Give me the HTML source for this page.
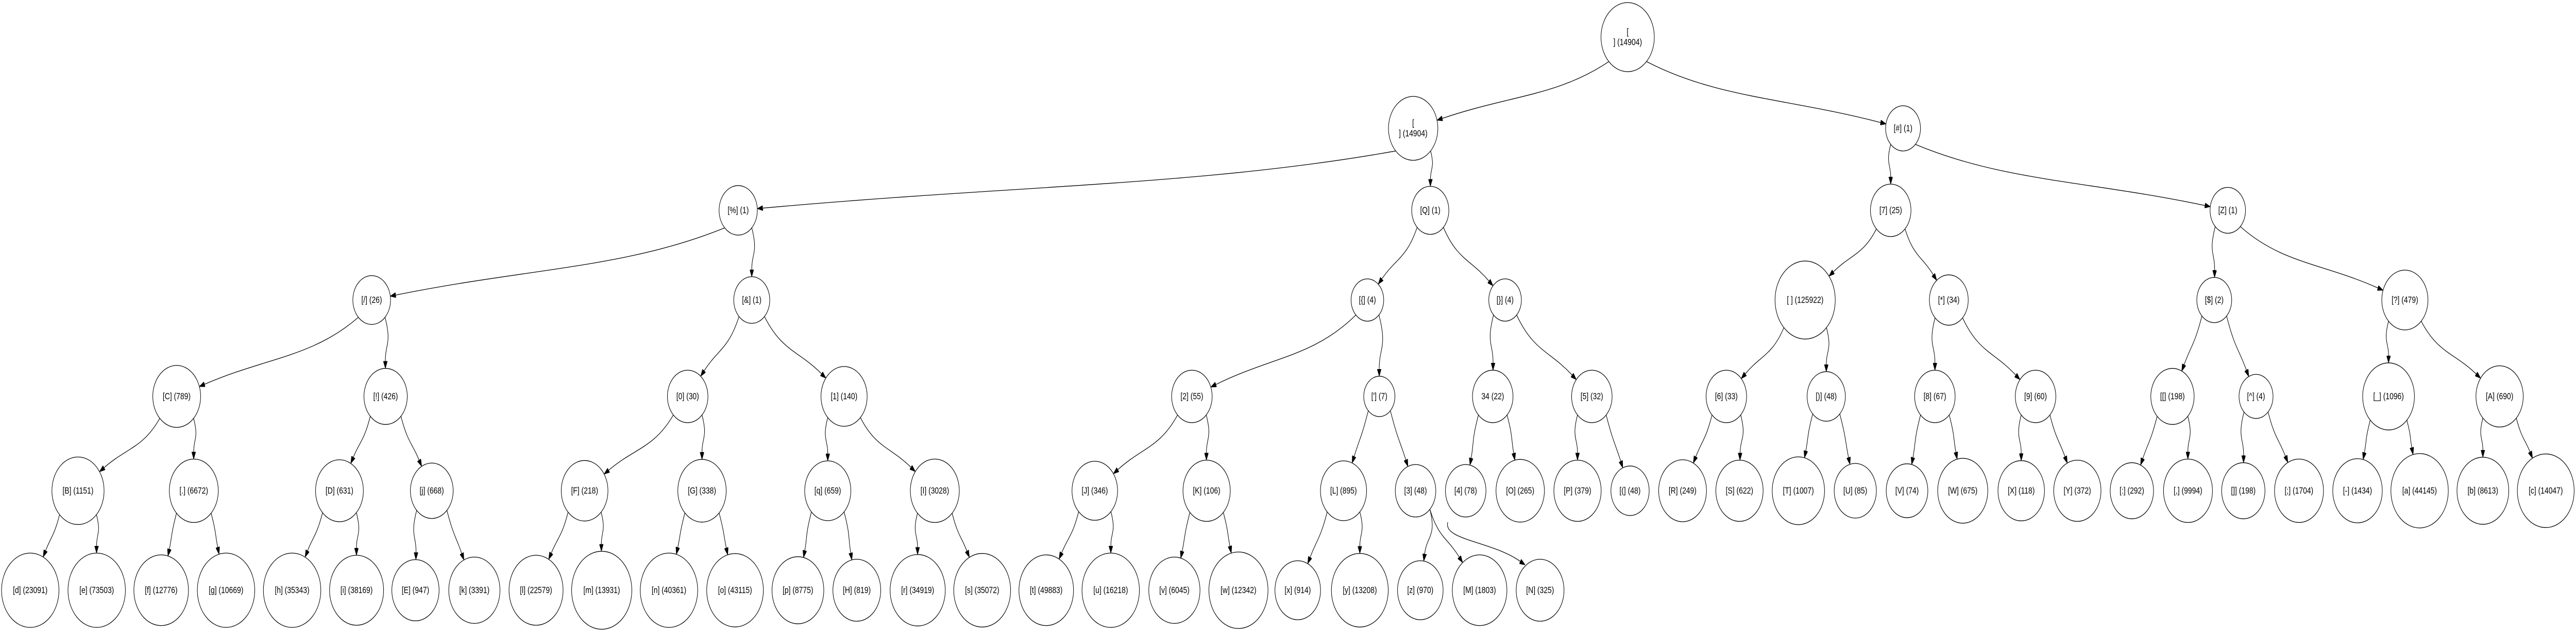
<!DOCTYPE html>
<html><head><meta charset="utf-8">
<style>
html,body{margin:0;padding:0;background:#fff;width:100%;height:100%;overflow:hidden;}
svg{display:block;width:100vw;height:100vh;}
text{font-family:"Liberation Sans",Arial,sans-serif;font-size:18px;fill:#000;}
</style></head>
<body>
<svg id="g" xmlns="http://www.w3.org/2000/svg" viewBox="0 0 6473 1226" preserveAspectRatio="none">
<defs><marker id="ah" markerUnits="userSpaceOnUse" markerWidth="14" markerHeight="10" viewBox="0 -5 14 10" refX="0" refY="0" orient="auto"><path d="M0,-5 L14,0 L0,5 z" fill="#000" stroke="#000" stroke-width="1"/></marker></defs>
<rect width="6473" height="1226" fill="#fff"/>
<g id="edges"></g><g id="nodes"></g>
</svg>
<script>
var L3=582,L4=769,L5=952,L6=1145;
var N=[
["R","[\n] (14904)",4090,72,null,67],
["N1","[\n] (14904)",3551,249,"R",62],
["H","[#] (1)",4782,249,"R"],
["P","[%] (1)",1855,408,"N1"],
["Q","[Q] (1)",3594,408,"N1"],
["S7","[7] (25)",4751,408,"H"],
["Z","[Z] (1)",5598,408,"H"],
["sl","[/] (26)",934,L3,"P"],["am","[&] (1)",1889,L3,"P"],["lb","[{] (4)",3436,L3,"Q"],["rb","[}] (4)",3782,L3,"Q"],
["sp","[ ] (125922)",4536,L3,"S7"],["st","[*] (34)",4897,L3,"S7"],["do","[$] (2)",5564,L3,"Z"],["qm","[?] (479)",6043,L3,"Z"],
["C","[C] (789)",444,L4,"sl"],["ex","[!] (426)",969,L4,"sl"],["z0","[0] (30)",1728,L4,"am"],["z1","[1] (140)",2121,L4,"am"],
["z2","[2] (55)",2995,L4,"lb"],["ap","['] (7)",3466,L4,"lb"],["q34","34 (22)",3751,L4,"rb"],["z5","[5] (32)",4000,L4,"rb"],
["z6","[6] (33)",4338,L4,"sp"],["rp","[)] (48)",4589,L4,"sp"],["z8","[8] (67)",4862,L4,"st"],["z9","[9] (60)",5115,L4,"st"],
["lsb","[[] (198)",5459,L4,"do"],["ca","[^] (4)",5669,L4,"do"],["us","[_] (1096)",6002,L4,"qm"],["A","[A] (690)",6281,L4,"qm"],
["B","[B] (1151)",196,L5,"C"],["dot","[.] (6672)",487,L5,"C"],["D","[D] (631)",853,L5,"ex"],["j","[j] (668)",1085,L5,"ex"],
["F","[F] (218)",1469,L5,"z0"],["G","[G] (338)",1764,L5,"z0"],["q","[q] (659)",2080,L5,"z1"],["I","[I] (3028)",2349,L5,"z1"],
["J","[J] (346)",2751,L5,"z2"],["K","[K] (106)",3032,L5,"z2"],["Lx","[L] (895)",3376,L5,"ap"],["z3","[3] (48)",3557,L5,"ap"],
["z4","[4] (78)",3683,L5,"q34"],["O","[O] (265)",3820,L5,"q34"],["Pp","[P] (379)",3964,L5,"z5"],["lp","[(] (48)",4096,L5,"z5"],
["Rr","[R] (249)",4228,L5,"z6"],["Ss","[S] (622)",4371,L5,"z6"],["T","[T] (1007)",4519,L5,"rp"],["U","[U] (85)",4662,L5,"rp"],
["V","[V] (74)",4792,L5,"z8"],["W","[W] (675)",4932,L5,"z8"],["X","[X] (118)",5079,L5,"z9"],["Y","[Y] (372)",5220,L5,"z9"],
["co","[:] (292)",5357,L5,"lsb"],["cm","[,] (9994)",5498,L5,"lsb"],["rsb","[]] (198)",5637,L5,"ca"],["sc","[;] (1704)",5777,L5,"ca"],
["hy","[-] (1434)",5924,L5,"us"],["a","[a] (44145)",6080,L5,"us"],["b","[b] (8613)",6239,L5,"A"],["c","[c] (14047)",6397,L5,"A"],
["d","[d] (23091)",76,L6,"B"],["e","[e] (73503)",243,L6,"B"],["f","[f] (12776)",405,L6,"dot"],["g","[g] (10669)",568,L6,"dot"],
["h","[h] (35343)",734,L6,"D"],["i","[i] (38169)",896,L6,"D"],["E","[E] (947)",1044,L6,"j"],["k","[k] (3391)",1192,L6,"j"],
["l","[l] (22579)",1347,L6,"F"],["m","[m] (13931)",1512,L6,"F"],["n","[n] (40361)",1681,L6,"G"],["o","[o] (43115)",1847,L6,"G"],
["p","[p] (8775)",2005,L6,"q"],["Hh","[H] (819)",2153,L6,"q"],["r","[r] (34919)",2306,L6,"I"],["s","[s] (35072)",2468,L6,"I"],
["t","[t] (49883)",2629,L6,"J"],["u","[u] (16218)",2791,L6,"J"],["v","[v] (6045)",2951,L6,"K"],["w","[w] (12342)",3112,L6,"K"],
["x","[x] (914)",3261,L6,"Lx"],["y","[y] (13208)",3417,L6,"Lx"],["zz","[z] (970)",3569,L6,"z3"],["M","[M] (1803)",3718,L6,"z3"],
["Nn","[N] (325)",3870,L6,"z4"]
];
var NS="http://www.w3.org/2000/svg";
var ng=document.getElementById("nodes"),eg=document.getElementById("edges");
var map={};
N.forEach(function(n){
  var t=document.createElementNS(NS,"text");
  t.setAttribute("text-anchor","middle");
  var lines=n[1].split("\n");
  if(lines.length==1){t.setAttribute("x",n[2]);t.setAttribute("y",n[3]);t.setAttribute("dominant-baseline","central");t.textContent=n[1];}
  else{lines.forEach(function(s,i){var ts=document.createElementNS(NS,"tspan");ts.setAttribute("x",n[2]);ts.setAttribute("y",n[3]+(i==0?-10:10));ts.setAttribute("dominant-baseline","central");ts.textContent=s;t.appendChild(ts);});}
  var c=document.createElementNS(NS,"circle");
  c.setAttribute("cx",n[2]);c.setAttribute("cy",n[3]);c.setAttribute("fill","none");c.setAttribute("stroke","#000");c.setAttribute("stroke-width","1.3");
  ng.appendChild(c);ng.appendChild(t);
  var r=n[5];
  if(!r){var tw=0;try{tw=t.getComputedTextLength();}catch(e){} if(!tw)tw=n[1].length*8;r=0.707*(tw+15);}
  c.setAttribute("r",r);
  map[n[0]]={x:n[2],y:n[3],r:r};
});
function add(d){var p=document.createElementNS(NS,"path");p.setAttribute("d",d);p.setAttribute("fill","none");p.setAttribute("stroke","#000");p.setAttribute("stroke-width","1.3");p.setAttribute("marker-end","url(#ah)");eg.appendChild(p);}
function f(v){return v.toFixed(1);}
N.forEach(function(n){
  if(!n[4])return;
  var P=map[n[4]],C=map[n[0]];
  if(n[0]=="Nn"){
    var p0x=P.x-45,p0y=P.y+61;
    add("M"+p0x+","+p0y+" C"+(p0x-12)+","+(p0y+35)+" "+(C.x-120)+","+(C.y-95)+" "+(C.x-50)+","+(C.y-56));
    return;
  }
  var dx=C.x-P.x,s=dx<0?-1:1;
  var p0x=P.x+s*0.7071*P.r,p0y=P.y+0.7071*P.r;
  var vx=p0x-C.x,vy=p0y-C.y,vl=Math.sqrt(vx*vx+vy*vy);var ex=vx/vl,ey=vy/vl;
  var bx=C.x+ex*C.r,by=C.y+ey*C.r;
  var endx=bx+ex*14,endy=by+ey*14;
  var dd=Math.sqrt((endx-p0x)*(endx-p0x)+(endy-p0y)*(endy-p0y));var Lc=dd*0.4;
  var c1x=p0x+s*Math.max(0.3*Math.abs(endx-p0x),0.2*(endy-p0y)),c1y=p0y+0.6*(endy-p0y);
  var c2x=endx+ex*Lc,c2y=endy+ey*Lc;
  add("M"+f(p0x)+","+f(p0y)+" C"+f(c1x)+","+f(c1y)+" "+f(c2x)+","+f(c2y)+" "+f(endx)+","+f(endy));
});
</script>
</body></html>
